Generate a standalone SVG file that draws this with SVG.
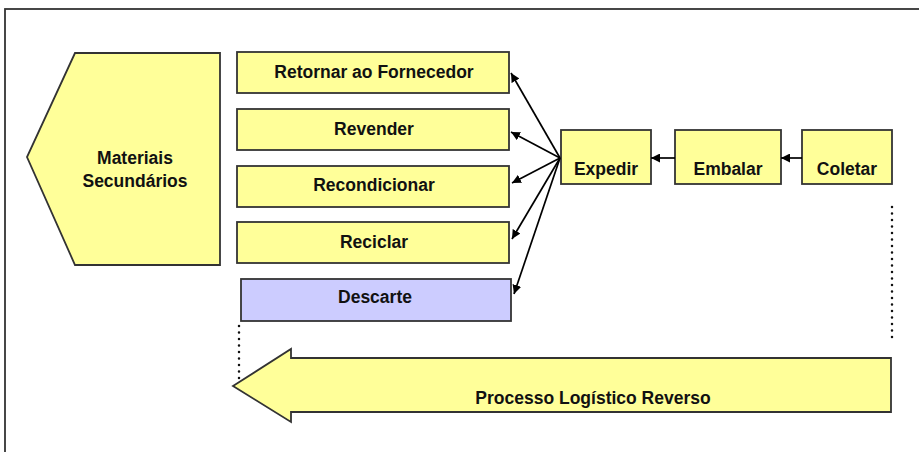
<svg xmlns="http://www.w3.org/2000/svg" width="919" height="452" viewBox="0 0 919 452">
<style>
.box{fill:#FFFF99;stroke:#333;stroke-width:1.8}
.blue{fill:#CCCCFF;stroke:#333;stroke-width:1.8}
.t{font-family:"Liberation Sans",Arial,sans-serif;font-weight:bold;font-size:17.5px;fill:#111;text-anchor:middle}
.c{stroke:#000;stroke-width:1.7;fill:none}
.dot{stroke:#111;stroke-width:2.5;stroke-linecap:round;stroke-dasharray:0 6.5;fill:none}
</style>
<defs>
<marker id="ah" viewBox="0 0 10 10" refX="10" refY="5" markerWidth="9" markerHeight="9" markerUnits="userSpaceOnUse" orient="auto">
<path d="M0,0 L10,5 L0,10 z" fill="#000"/>
</marker>
</defs>
<rect x="5" y="9" width="930" height="460" fill="#fff" stroke="#333" stroke-width="1.8"/>
<g id="materiais">
<path class="box" d="M75,53 L220,53 L220,265 L75,265 L27,157 z"/>
<text class="t" x="135" y="164">Materiais</text>
<text class="t" x="135" y="187">Secundários</text>
</g>
<g id="retornar">
<rect class="box" x="237" y="52" width="272" height="41"/>
<text class="t" x="374" y="78">Retornar ao Fornecedor</text>
</g>
<g id="revender">
<rect class="box" x="237" y="109" width="272" height="41"/>
<text class="t" x="374" y="135">Revender</text>
</g>
<g id="recondicionar">
<rect class="box" x="237" y="166" width="272" height="41"/>
<text class="t" x="374" y="191">Recondicionar</text>
</g>
<g id="reciclar">
<rect class="box" x="237" y="222" width="272" height="41"/>
<text class="t" x="374" y="248">Reciclar</text>
</g>
<g id="descarte">
<rect class="blue" x="241" y="279" width="270" height="42"/>
<text class="t" x="375" y="303">Descarte</text>
</g>
<g id="expedir">
<rect class="box" x="561" y="130" width="90" height="54"/>
<text class="t" x="606" y="175">Expedir</text>
</g>
<g id="embalar">
<rect class="box" x="675" y="130" width="106" height="54"/>
<text class="t" x="728" y="175">Embalar</text>
</g>
<g id="coletar">
<rect class="box" x="802" y="130" width="90" height="54"/>
<text class="t" x="847" y="175">Coletar</text>
</g>
<g id="processo">
<path class="box" d="M233,386 L291,349 L291,358 L891,358 L891,412 L291,412 L291,422 z"/>
<text class="t" x="593" y="404">Processo Logístico Reverso</text>
</g>
<g id="connectors">
<line class="c" x1="802" y1="158" x2="781" y2="158" marker-end="url(#ah)"/>
<line class="c" x1="675" y1="158" x2="651" y2="158" marker-end="url(#ah)"/>
<line class="c" x1="560" y1="158" x2="511" y2="73" marker-end="url(#ah)"/>
<line class="c" x1="560" y1="158" x2="511" y2="132" marker-end="url(#ah)"/>
<line class="c" x1="560" y1="158" x2="512" y2="183" marker-end="url(#ah)"/>
<line class="c" x1="560" y1="158" x2="512" y2="239" marker-end="url(#ah)"/>
<line class="c" x1="560" y1="158" x2="514" y2="294" marker-end="url(#ah)"/>
<line class="dot" x1="239" y1="326" x2="239" y2="380"/>
<line class="dot" x1="892" y1="207" x2="892" y2="340"/>
</g>
</svg>
